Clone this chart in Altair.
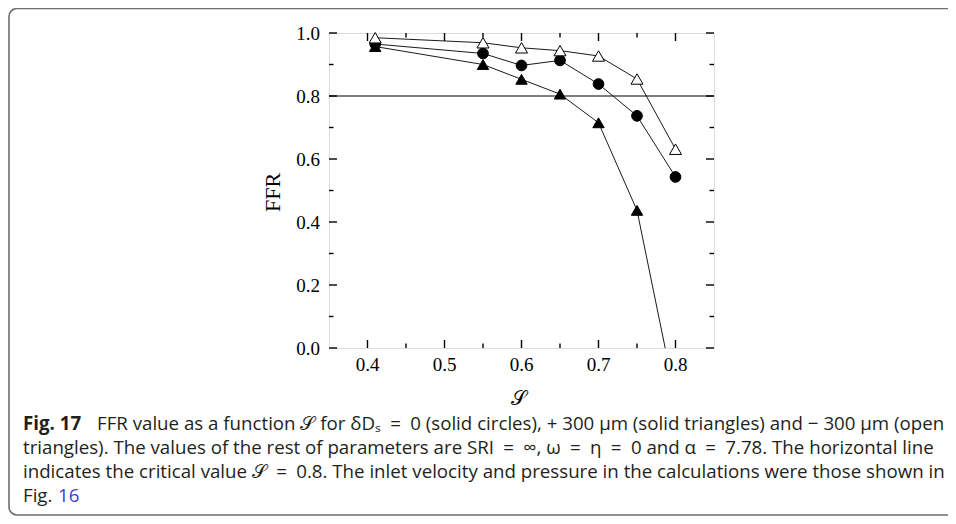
import altair as alt
import pandas as pd

# ---------------- data ----------------
s_vals = [0.41, 0.55, 0.60, 0.65, 0.70, 0.75, 0.80]
ffr_circles = [0.965, 0.935, 0.897, 0.913, 0.838, 0.737, 0.543]      # dDs = 0
ffr_solid_tri = [0.957, 0.900, 0.853, 0.806, 0.715, 0.437, -0.16]   # +300 um
ffr_open_tri = [0.985, 0.969, 0.953, 0.944, 0.927, 0.854, 0.631]    # -300 um
series_names = ["0", "+300", "-300"]
critical = [0.8]

x_major = [0.4, 0.5, 0.6, 0.7, 0.8]
x_minor = [0.45, 0.55, 0.65, 0.75]
y_major = [0.0, 0.2, 0.4, 0.6, 0.8, 1.0]
y_minor = [0.1, 0.3, 0.5, 0.7, 0.9]

x_title = "𝒮"
y_title = "FFR"

E = "\u2002"  # en space (math-style spacing around relations)
cap1_bold = "Fig. 17"
cap1_rest = f"FFR value as a function 𝒮 for δDₛ{E}={E}0 (solid circles), + 300 μm (solid triangles) and − 300 μm (open"
cap2 = f"triangles). The values of the rest of parameters are SRI{E}={E}∞, ω{E}={E}η{E}={E}0 and α{E}={E}7.78. The horizontal line"
cap3 = f"indicates the critical value 𝒮{E}={E}0.8. The inlet velocity and pressure in the calculations were those shown in"
cap4a = "Fig."
cap4b = "16"

# ---------------- layout ----------------
W, H = 385, 315
PAD_L, PAD_T = 321, 25
TOTAL_W, TOTAL_H = 940, 508

rows = []
for name, ys in zip(series_names, [ffr_circles, ffr_solid_tri, ffr_open_tri]):
    for sv, fv in zip(s_vals, ys):
        rows.append({"s": sv, "ffr": fv, "series": name})
df = pd.DataFrame(rows)

xs = alt.Scale(domain=[0.35, 0.85], nice=False, zero=False)
ys_ = alt.Scale(domain=[0.0, 1.0], nice=False, zero=False)

serif = "Liberation Serif"
sans = "Open Sans"

shape_scale = alt.Scale(domain=series_names, range=["circle", "triangle-up", "triangle-up"])
fill_scale = alt.Scale(domain=series_names, range=["black", "black", "white"])
size_scale = alt.Scale(domain=series_names, range=[115, 145, 145])

lines = alt.Chart(df).mark_line(color="black", strokeWidth=0.9, clip=True).encode(
    x=alt.X("s:Q", scale=xs, axis=None),
    y=alt.Y("ffr:Q", scale=ys_, axis=None),
    detail="series:N",
)

points = alt.Chart(df).transform_filter("datum.ffr >= 0").mark_point(
    filled=True, stroke="black", strokeWidth=1, opacity=1).encode(
    x=alt.X("s:Q", scale=xs, axis=None),
    y=alt.Y("ffr:Q", scale=ys_, axis=None),
    shape=alt.Shape("series:N", scale=shape_scale, legend=None),
    fill=alt.Fill("series:N", scale=fill_scale, legend=None),
    size=alt.Size("series:N", scale=size_scale, legend=None),
)

rule = alt.Chart(pd.DataFrame({"c": critical})).mark_rule(color="black", strokeWidth=1).encode(
    y=alt.Y("c:Q", scale=ys_, axis=None), x=alt.value(0), x2=alt.value(W))


def xticks(vals, length, top):
    d = pd.DataFrame({"v": vals})
    y0 = 0 if top else H
    y1 = length if top else H - length
    return alt.Chart(d).mark_rule(color="black", strokeWidth=1.4).encode(
        x=alt.X("v:Q", scale=xs, axis=None), y=alt.value(y0), y2=alt.value(y1))


def yticks(vals, length, right):
    d = pd.DataFrame({"v": vals})
    x0 = W if right else 0
    x1 = W - length if right else length
    return alt.Chart(d).mark_rule(color="black", strokeWidth=1.4).encode(
        y=alt.Y("v:Q", scale=ys_, axis=None), x=alt.value(x0), x2=alt.value(x1))


tick_layers = [
    xticks(x_major, 8, False), xticks(x_minor, 4.5, False),
    xticks(x_major, 8, True), xticks(x_minor, 4.5, True),
    yticks(y_major, 8, False), yticks(y_minor, 4.5, False),
    yticks(y_major, 8, True), yticks(y_minor, 4.5, True),
]

# tick labels drawn through the scales
x_labels = alt.Chart(pd.DataFrame({"v": x_major})).mark_text(
    font=serif, fontSize=19, color="black", align="center", baseline="alphabetic").encode(
    x=alt.X("v:Q", scale=xs, axis=None), y=alt.value(H + 23),
    text=alt.Text("v:Q", format=".1f"))
y_labels = alt.Chart(pd.DataFrame({"v": y_major})).mark_text(
    font=serif, fontSize=19, color="black", align="right", baseline="middle", dy=1).encode(
    y=alt.Y("v:Q", scale=ys_, axis=None), x=alt.value(-9),
    text=alt.Text("v:Q", format=".1f"))

x_title_l = alt.Chart(pd.DataFrame({"t": [x_title]})).mark_text(
    font=serif, fontSize=20, color="black", align="center", baseline="middle").encode(
    text="t:N", x=alt.value(W / 2 - 3), y=alt.value(366))
y_title_l = alt.Chart(pd.DataFrame({"t": [y_title]})).mark_text(
    font=serif, fontSize=22, color="black", align="center", baseline="middle", angle=270).encode(
    text="t:N", x=alt.value(-56), y=alt.value(H / 2 + 2))

# frame around the figure (outline only)
frame = alt.Chart(pd.DataFrame({"f": [1]})).mark_rect(
    filled=False, stroke="#6e6e6e", strokeWidth=1.6, cornerRadius=8).encode(
    x=alt.value(-PAD_L + 1), x2=alt.value(TOTAL_W + 20), y=alt.value(-PAD_T + 0.5),
    y2=alt.value(TOTAL_H - PAD_T - 1))

CX = -306
CAP_SIZE = 18.7


def cap(text, x, y, weight="normal", color="#231f20"):
    return alt.Chart(pd.DataFrame({"t": [text]})).mark_text(
        align="left", baseline="alphabetic", font=sans, fontSize=CAP_SIZE,
        fontWeight=weight, color=color).encode(
        text="t:N", x=alt.value(x), y=alt.value(y))


captions = [
    cap(cap1_bold, CX, 397, weight="bold"),
    cap(cap1_rest, CX + 74, 397),
    cap(cap2, CX, 421),
    cap(cap3, CX, 445),
    cap(cap4a, CX, 469),
    cap(cap4b, CX + 35, 469, color="#3a3ad6"),
]

chart = alt.layer(frame, rule, lines, *tick_layers, points, x_labels, y_labels,
                  x_title_l, y_title_l, *captions).properties(
    width=W, height=H,
    autosize=alt.AutoSizeParams(type="none"),
    padding={"left": PAD_L, "top": PAD_T, "right": TOTAL_W - PAD_L - W, "bottom": TOTAL_H - PAD_T - H},
).configure_view(stroke="black", strokeWidth=2).configure(background="white")

chart.save("out.html", embed_options={"renderer": "svg", "actions": False})
